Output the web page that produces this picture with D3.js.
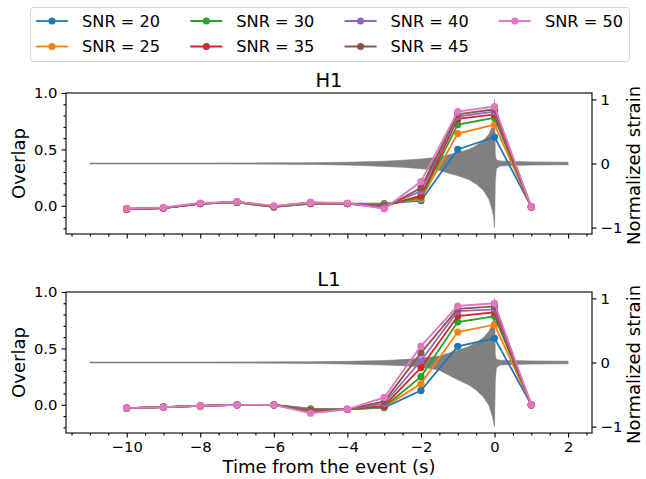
<!DOCTYPE html>
<html>
<head>
<meta charset="utf-8">
<script src="https://cdn.jsdelivr.net/npm/d3@7/dist/d3.min.js"></script>
<style>
  html, body { margin: 0; padding: 0; background: #fff; }
  svg { display: block; font-family: "DejaVu Sans", sans-serif; }
</style>
</head>
<body>
<svg id="chart" width="646" height="479"></svg>
<script>
// ---------------- DATA ----------------
const snrLevels = [20, 25, 30, 35, 40, 45, 50];
const seriesColors = ["#1f77b4", "#ff7f0e", "#2ca02c", "#d62728", "#9467bd", "#8c564b", "#e377c2"];
const times = [-10, -9, -8, -7, -6, -5, -4, -3, -2, -1, 0, 1];

// H1 overlap per SNR
const h1Snr20 = [-0.03, -0.02, 0.02, 0.03, -0.01, 0.02, 0.02, 0.02, 0.045, 0.50, 0.61, -0.01];
const h1Snr25 = [-0.03, -0.02, 0.02, 0.03, -0.01, 0.02, 0.02, 0.01, 0.06, 0.64, 0.72, -0.01];
const h1Snr30 = [-0.03, -0.02, 0.02, 0.03, -0.01, 0.02, 0.02, 0.005, 0.075, 0.72, 0.78, -0.01];
const h1Snr35 = [-0.03, -0.02, 0.02, 0.035, -0.005, 0.025, 0.02, 0.0, 0.09, 0.77, 0.81, -0.01];
const h1Snr40 = [-0.025, -0.02, 0.02, 0.035, -0.005, 0.025, 0.02, -0.01, 0.13, 0.79, 0.835, -0.01];
const h1Snr45 = [-0.025, -0.02, 0.02, 0.035, -0.005, 0.03, 0.02, -0.02, 0.16, 0.81, 0.855, -0.01];
const h1Snr50 = [-0.025, -0.015, 0.025, 0.035, 0.0, 0.03, 0.025, -0.027, 0.215, 0.835, 0.88, -0.01];

// L1 overlap per SNR
const l1Snr20 = [-0.03, -0.02, -0.01, 0.0, 0.0, -0.035, -0.04, -0.025, 0.127, 0.518, 0.59, 0.0];
const l1Snr25 = [-0.03, -0.02, -0.01, 0.0, 0.0, -0.04, -0.04, -0.02, 0.186, 0.645, 0.71, 0.0];
const l1Snr30 = [-0.03, -0.02, -0.01, 0.0, 0.0, -0.045, -0.04, -0.02, 0.25, 0.734, 0.784, 0.0];
const l1Snr35 = [-0.03, -0.02, -0.01, 0.0, 0.0, -0.05, -0.04, -0.01, 0.33, 0.787, 0.82, 0.0];
const l1Snr40 = [-0.03, -0.02, -0.01, 0.0, 0.0, -0.055, -0.04, 0.01, 0.39, 0.83, 0.846, 0.0];
const l1Snr45 = [-0.03, -0.02, -0.01, 0.0, 0.0, -0.06, -0.04, 0.03, 0.46, 0.85, 0.873, 0.0];
const l1Snr50 = [-0.03, -0.02, -0.01, 0.0, 0.0, -0.075, -0.04, 0.065, 0.52, 0.876, 0.90, 0.0];

// Normalized strain envelope
const strainTimes = [-11, -8, -6, -5, -4, -3, -2.5, -2, -1.5, -1, -0.7, -0.5, -0.3, -0.15, -0.06, -0.02, 0, 0.02, 0.05, 0.15, 0.5, 1, 2];
const h1StrainUpper = [0.008, 0.008, 0.01, 0.012, 0.02, 0.035, 0.05, 0.07, 0.1, 0.17, 0.22, 0.28, 0.36, 0.46, 0.58, 0.68, 1.0, 0.15, 0.06, 0.04, 0.03, 0.025, 0.02];
const h1StrainLower = [-0.008, -0.008, -0.01, -0.015, -0.025, -0.045, -0.06, -0.08, -0.11, -0.19, -0.25, -0.32, -0.42, -0.56, -0.73, -0.86, -1.0, -0.3, -0.08, -0.04, -0.03, -0.025, -0.02];
const l1StrainUpper = [0.008, 0.008, 0.01, 0.012, 0.018, 0.03, 0.045, 0.065, 0.1, 0.19, 0.25, 0.31, 0.39, 0.49, 0.6, 0.7, 1.0, 0.12, 0.05, 0.035, 0.03, 0.025, 0.02];
const l1StrainLower = [-0.008, -0.008, -0.01, -0.015, -0.025, -0.04, -0.05, -0.065, -0.12, -0.27, -0.35, -0.43, -0.54, -0.67, -0.84, -0.94, -1.0, -0.3, -0.08, -0.04, -0.03, -0.025, -0.02];

const xTicks = [-10, -8, -6, -4, -2, 0, 2];
const xTickLabels = ["\u221210", "\u22128", "\u22126", "\u22124", "\u22122", "0", "2"];
const leftTicks = [0.0, 0.5, 1.0];
const leftTickLabels = ["0.0", "0.5", "1.0"];
const rightTicks = [-1, 0, 1];
const rightTickLabels = ["\u22121", "0", "1"];
const panelTitles = ["H1", "L1"];
const xLabel = "Time from the event (s)";
const leftLabel = "Overlap";
const rightLabel = "Normalized strain";

// ---------------- DRAW ----------------
const svg = d3.select("#chart");
const plotLeft = 66, plotRight = 592;
const panels = [
  { top: 93, bottom: 234, title: panelTitles[0],
    series: [h1Snr20, h1Snr25, h1Snr30, h1Snr35, h1Snr40, h1Snr45, h1Snr50],
    up: h1StrainUpper, lo: h1StrainLower, showXLabels: false },
  { top: 292, bottom: 433, title: panelTitles[1],
    series: [l1Snr20, l1Snr25, l1Snr30, l1Snr35, l1Snr40, l1Snr45, l1Snr50],
    up: l1StrainUpper, lo: l1StrainLower, showXLabels: true }
];

const x = d3.scaleLinear().domain([-11.65, 2.65]).range([plotLeft, plotRight]);
const xMinor = d3.range(-11.5, 2.65, 0.5).filter(v => Math.abs(v / 2 - Math.round(v / 2)) > 1e-6);

const tickFont = 14.8, labelFont = 18, titleFont = 19.5;

panels.forEach(p => {
  const yL = d3.scaleLinear().domain([-0.25, 1.0]).range([p.bottom, p.top]);
  const yR = d3.scaleLinear().domain([-1.1, 1.1]).range([p.bottom, p.top]);
  const g = svg.append("g");

  // strain (twin axis) envelope
  const area = d3.area()
    .x((d, i) => x(strainTimes[i]))
    .y0((d, i) => yR(p.lo[i]))
    .y1((d, i) => yR(p.up[i]));
  g.append("path")
    .datum(strainTimes)
    .attr("d", area)
    .attr("fill", "#808080")
    .attr("stroke", "#808080")
    .attr("stroke-width", 0.6);

  // overlap series
  const line = d3.line().x((d, i) => x(times[i])).y(d => yL(d));
  p.series.forEach((vals, si) => {
    const sg = g.append("g");
    sg.append("path")
      .datum(vals)
      .attr("d", line)
      .attr("fill", "none")
      .attr("stroke", seriesColors[si])
      .attr("stroke-width", 1.8);
    sg.selectAll("circle")
      .data(vals)
      .enter().append("circle")
      .attr("cx", (d, i) => x(times[i]))
      .attr("cy", d => yL(d))
      .attr("r", 3.6)
      .attr("fill", seriesColors[si]);
  });

  // frame
  g.append("rect")
    .attr("x", plotLeft).attr("y", p.top)
    .attr("width", plotRight - plotLeft).attr("height", p.bottom - p.top)
    .attr("fill", "none").attr("stroke", "#000").attr("stroke-width", 1.1);

  // bottom x axis
  const xAxis = d3.axisBottom(x).tickValues(xTicks).tickSize(4.5).tickPadding(4)
    .tickFormat((d, i) => p.showXLabels ? xTickLabels[i] : "");
  const xg = g.append("g").attr("transform", `translate(0,${p.bottom})`).call(xAxis);
  const xmg = g.append("g").attr("transform", `translate(0,${p.bottom})`)
    .call(d3.axisBottom(x).tickValues(xMinor).tickSize(2.5).tickFormat(""));

  // left y axis
  const yAxis = d3.axisLeft(yL).tickValues(leftTicks).tickSize(4.5).tickPadding(4)
    .tickFormat((d, i) => leftTickLabels[i]);
  const yg = g.append("g").attr("transform", `translate(${plotLeft},0)`).call(yAxis);
  const yMinorVals = [-0.2, -0.1, 0.1, 0.2, 0.3, 0.4, 0.6, 0.7, 0.8, 0.9];
  const ymg = g.append("g").attr("transform", `translate(${plotLeft},0)`)
    .call(d3.axisLeft(yL).tickValues(yMinorVals).tickSize(2.5).tickFormat(""));

  // right y axis
  const rAxis = d3.axisRight(yR).tickValues(rightTicks).tickSize(4.5).tickPadding(4)
    .tickFormat((d, i) => rightTickLabels[i]);
  const rg = g.append("g").attr("transform", `translate(${plotRight},0)`).call(rAxis);

  [xg, xmg, yg, ymg, rg].forEach(a => {
    a.select(".domain").remove();
    a.selectAll("line").attr("stroke", "#000").attr("stroke-width", 1.1);
    a.selectAll("text").attr("font-size", tickFont).attr("font-family", "DejaVu Sans").attr("fill", "#000");
  });

  // title
  g.append("text")
    .attr("x", (plotLeft + plotRight) / 2).attr("y", p.top - 6)
    .attr("text-anchor", "middle").attr("font-size", titleFont).attr("fill", "#000")
    .text(p.title);

  // left label
  const cy = (p.top + p.bottom) / 2;
  g.append("text")
    .attr("transform", `translate(25,${cy}) rotate(-90)`)
    .attr("text-anchor", "middle").attr("font-size", labelFont).attr("fill", "#000")
    .text(leftLabel);

  // right label
  g.append("text")
    .attr("transform", `translate(640,${cy + 2}) rotate(-90)`)
    .attr("text-anchor", "middle").attr("font-size", labelFont).attr("fill", "#000")
    .text(rightLabel);
});

// x label
svg.append("text")
  .attr("x", (plotLeft + plotRight) / 2).attr("y", 473)
  .attr("text-anchor", "middle").attr("font-size", labelFont).attr("fill", "#000")
  .text(xLabel);

// legend
const lg = svg.append("g");
lg.append("rect")
  .attr("x", 30.5).attr("y", 7.5).attr("width", 599).attr("height", 54)
  .attr("rx", 3).attr("fill", "#fff").attr("stroke", "#d4d4d4").attr("stroke-width", 1);
snrLevels.forEach((s, i) => {
  const col = Math.floor(i / 2), row = i % 2;
  const cx = 52 + col * 154.3;
  const cy = 21 + row * 25.5;
  lg.append("line")
    .attr("x1", cx - 16).attr("x2", cx + 16).attr("y1", cy).attr("y2", cy)
    .attr("stroke", seriesColors[i]).attr("stroke-width", 1.8);
  lg.append("circle").attr("cx", cx).attr("cy", cy).attr("r", 3.6).attr("fill", seriesColors[i]);
  lg.append("text")
    .attr("x", cx + 30).attr("y", cy).attr("dy", "0.36em")
    .attr("font-size", 16.2).attr("fill", "#000")
    .text("SNR = " + s);
});
</script>
</body>
</html>
